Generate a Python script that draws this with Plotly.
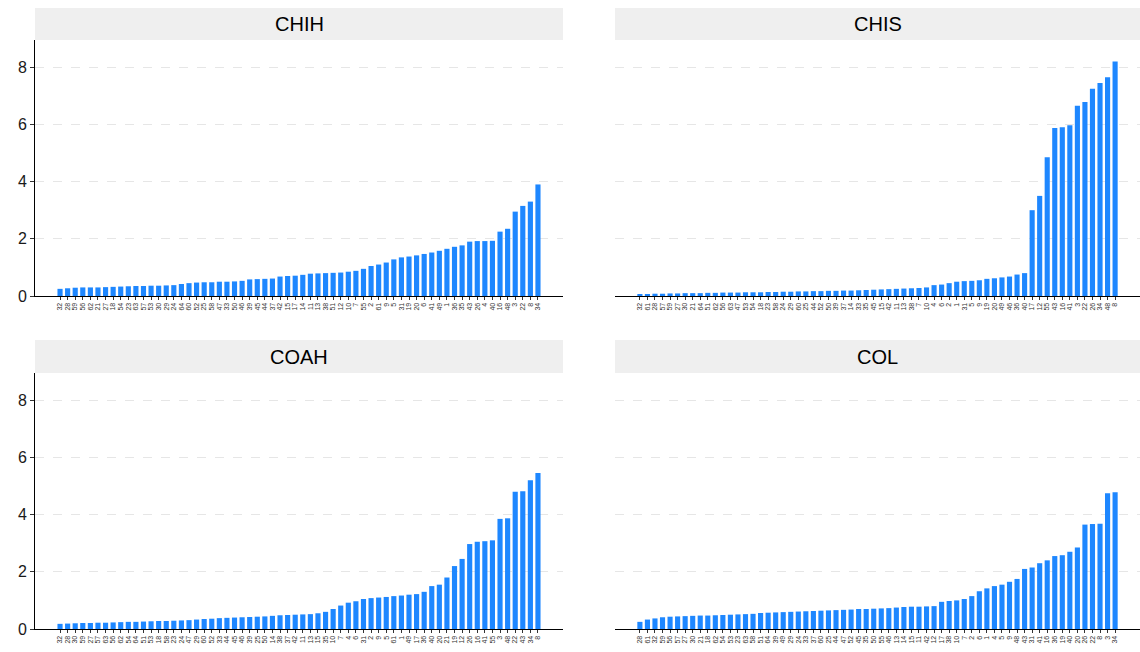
import plotly.graph_objects as go

panels = ["CHIH", "CHIS", "COAH", "COL"]

chih_labels = ["32","28","59","56","62","21","27","18","54","23","63","57","53","30","29","24",
               "64","60","52","25","58","47","33","50","46","39","45","44","37","42",
               "15","17","14","11","13","38","51","12","10","7",
               "55","2","61","9","5","31","19","20","6","41",
               "49","1","36","35","43","26","4","40","16","48","3","22","8","34"]
chih_values = [0.25,0.27,0.29,0.30,0.30,0.30,0.31,0.32,0.33,0.34,0.35,0.35,0.36,0.36,0.37,0.38,
               0.42,0.45,0.47,0.48,0.48,0.50,0.50,0.51,0.53,0.58,0.59,0.60,0.61,0.68,
               0.70,0.71,0.74,0.78,0.79,0.80,0.81,0.82,0.85,0.88,
               0.95,1.05,1.10,1.17,1.28,1.35,1.38,1.42,1.47,1.52,
               1.58,1.65,1.72,1.77,1.90,1.92,1.92,1.93,2.25,2.35,2.95,3.15,3.30,3.90]

chis_labels = ["32","61","28","57","59","27","30","21","64","51","62","56","63","47","53","54",
               "18","23","58","24","29","60","25","44","52","50","39","37","14","33",
               "35","45","15","42","11","13","38","7","10","4",
               "6","2","1","31","5","9","19","20","49","46","36","40",
               "17","12","55","43","16","41","3","22","26","34","48","8"]
chis_values = [0.05,0.07,0.08,0.08,0.09,0.09,0.10,0.10,0.10,0.11,0.11,0.12,0.12,0.12,0.13,0.13,
               0.13,0.14,0.14,0.15,0.15,0.16,0.16,0.17,0.17,0.18,0.18,0.19,0.19,0.20,
               0.21,0.22,0.23,0.24,0.25,0.26,0.27,0.28,0.30,0.38,
               0.40,0.45,0.50,0.52,0.53,0.55,0.60,0.62,0.65,0.68,0.75,0.80,
               3.00,3.50,4.85,5.87,5.90,5.97,6.65,6.78,7.25,7.45,7.65,8.20]

coah_labels = ["32","28","30","59","27","57","63","56","62","54","64","51","53","18","58","23",
               "24","47","29","60","52","33","44","45","46","39","25","50","14","38",
               "37","42","11","13","15","35","10","7","4","6",
               "31","2","9","5","61","1","49","17","36","40",
               "20","21","19","12","26","16","41","55","3","48","22","43","34","8"]
coah_values = [0.18,0.19,0.20,0.21,0.21,0.22,0.22,0.23,0.24,0.25,0.25,0.26,0.27,0.28,0.28,0.29,
               0.30,0.31,0.33,0.35,0.36,0.38,0.39,0.40,0.41,0.42,0.43,0.44,0.46,0.48,
               0.49,0.50,0.51,0.52,0.55,0.60,0.70,0.82,0.92,0.97,
               1.05,1.08,1.10,1.12,1.15,1.17,1.20,1.22,1.30,1.50,
               1.55,1.80,2.20,2.45,2.97,3.05,3.07,3.10,3.85,3.87,4.80,4.82,5.20,5.45]

col_labels = ["28","61","32","59","56","57","27","30","21","18","62","54","53","23","63","58",
              "51","64","39","49","29","24","33","37","60","25","44","47","52","45",
              "35","50","55","46","13","14","15","11","42","12",
              "17","38","10","7","2","6","1","4","5","9",
              "48","43","31","41","16","36","19","40","20","26","22","8","3","34"]
col_values = [0.25,0.33,0.37,0.41,0.43,0.44,0.45,0.46,0.47,0.47,0.48,0.49,0.50,0.51,0.52,0.53,
              0.56,0.57,0.58,0.59,0.60,0.61,0.62,0.63,0.64,0.65,0.66,0.67,0.68,0.70,
              0.70,0.71,0.72,0.73,0.75,0.77,0.78,0.78,0.79,0.80,
              0.95,0.98,1.00,1.05,1.15,1.32,1.42,1.50,1.55,1.65,
              1.75,2.10,2.15,2.30,2.40,2.55,2.58,2.70,2.85,3.65,3.67,3.68,4.75,4.78]

y_ticks = [0, 2, 4, 6, 8]

data = [(chih_labels, chih_values), (chis_labels, chis_values),
        (coah_labels, coah_values), (col_labels, col_values)]

W, H = 1140, 652
BAR = "#1e87ff"
FONT = "Liberation Sans, Arial, sans-serif"

# pixel layout in page coordinates (body margin removed)
xdom_px = [(35, 563), (615, 1140)]
ydom_px = [(40, 296), (373, 629)]  # (top, bottom)
strip_px = [(8, 40), (340, 373)]

fig = go.Figure()
layout = dict(
    width=W, height=H,
    margin=dict(l=0, r=0, t=0, b=0),
    paper_bgcolor="white", plot_bgcolor="white",
    showlegend=False, bargap=0.32,
    font=dict(family=FONT, color="#1a1a1a"),
    shapes=[], annotations=[],
)


def fx(px):
    return px / W


def fy(py):
    return (H - py) / H


for i, (labels, values) in enumerate(data):
    r, c = divmod(i, 2)
    ax = "" if i == 0 else str(i + 1)
    xname, yname = "xaxis" + ax, "yaxis" + ax
    fig.add_trace(go.Bar(x=labels, y=values, marker=dict(color=BAR, line=dict(width=0)),
                         xaxis="x" + ax, yaxis="y" + ax, hoverinfo="x+y"))
    x0, x1 = xdom_px[c]
    yt, yb = ydom_px[r]
    n = len(labels)
    layout[xname] = dict(
        domain=[fx(x0), fx(x1)], anchor="y" + ax, type="category",
        categoryorder="array", categoryarray=labels,
        tickmode="array", tickvals=labels, ticktext=labels,
        range=[-3.3, n - 1 + 3.3], showgrid=False, zeroline=False,
        showline=True, linecolor="black", linewidth=1,
        ticks="outside", ticklen=3, tickcolor="#333", tickwidth=1,
        tickangle=-90, tickfont=dict(size=7, color="#333", family=FONT),
        automargin=False, fixedrange=True,
    )
    layout[yname] = dict(
        domain=[fy(yb), fy(yt)], anchor="x" + ax,
        range=[0, 8.95], tickvals=y_ticks,
        showgrid=True, gridcolor="#e6e6e6", griddash="dash", gridwidth=1,
        zeroline=False, automargin=False, fixedrange=True,
        showline=(c == 0), linecolor="black", linewidth=1,
        ticks="outside" if c == 0 else "", ticklen=4, tickcolor="#333",
        showticklabels=(c == 0), tickfont=dict(size=16, color="#1a1a1a", family=FONT),
    )
    s0, s1 = strip_px[r]
    layout["shapes"].append(dict(type="rect", xref="paper", yref="paper",
                                 x0=fx(x0), x1=fx(x1), y0=fy(s1), y1=fy(s0),
                                 fillcolor="#efefef", line=dict(width=0), layer="below"))
    layout["annotations"].append(dict(text=panels[i], xref="paper", yref="paper",
                                      x=(fx(x0) + fx(x1)) / 2, y=fy((s0 + s1) / 2),
                                      showarrow=False, xanchor="center", yanchor="middle",
                                      font=dict(size=20, color="black", family=FONT)))

fig.update_layout(**layout)
fig.write_html("out.html",
               config={"displayModeBar": False},
               post_script="document.body.style.margin='0px';document.body.style.overflow='hidden';")
